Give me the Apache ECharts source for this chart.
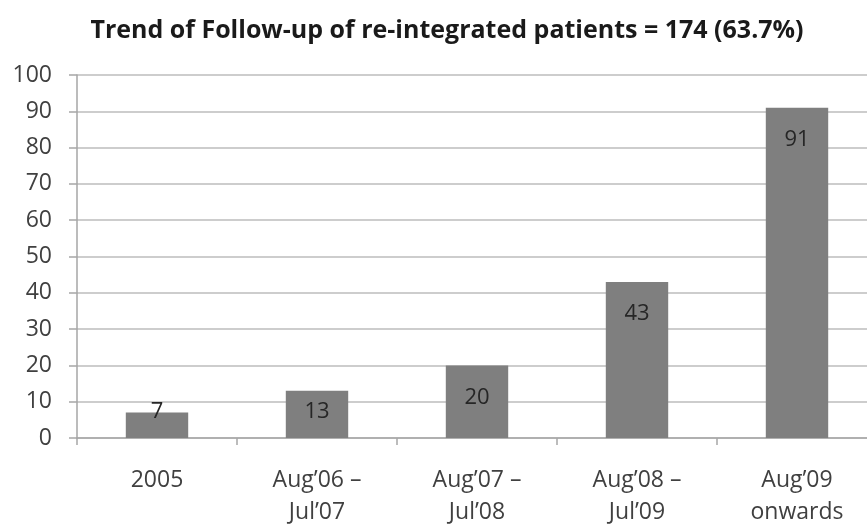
<!DOCTYPE html>
<html>
<head>
<meta charset="utf-8">
<script src="https://cdn.jsdelivr.net/npm/echarts@6/dist/echarts.min.js"></script>
<style>
  html, body { margin: 0; padding: 0; background: #fff; }
  #main { width: 867px; height: 524px; }
</style>
</head>
<body>
<div id="main"></div>
<script>
// periods on the x axis
var periods = ['2005', 'Aug’06 –\nJul’07', 'Aug’07 –\nJul’08', 'Aug’08 –\nJul’09', 'Aug’09\nonwards'];
// number of followed-up patients per period
var patients = [7, 13, 20, 43, 91];
var yTicks = [0, 10, 20, 30, 40, 50, 60, 70, 80, 90, 100];

var chart = echarts.init(document.getElementById('main'));
var font = '"Open Sans", sans-serif';

function buildData(offsets) {
  return patients.map(function (v, i) {
    return { value: v, label: { distance: offsets ? offsets[i] : 21 } };
  });
}

var option = {
  animation: false,
  title: {
    text: 'Trend of Follow-up of re-integrated patients = 174 (63.7%)',
    left: 442, top: 13, textAlign: 'center',
    textStyle: { fontFamily: font, fontSize: 25, fontWeight: 'bold', color: '#1a1a1a' }
  },
  grid: { left: 77, top: 75, width: 800, height: 363, outerBoundsMode: 'none' },
  xAxis: {
    type: 'category',
    data: periods,
    axisLine: { lineStyle: { color: '#a6a6a6', width: 1.5 } },
    axisTick: { show: true, length: 7, lineStyle: { color: '#a6a6a6', width: 1.5 } },
    axisLabel: { fontFamily: font, fontSize: 23, color: '#404040', margin: 26, lineHeight: 32 }
  },
  yAxis: {
    type: 'value',
    min: yTicks[0], max: yTicks[yTicks.length - 1], interval: 10,
    axisLine: { show: true, lineStyle: { color: '#a6a6a6', width: 1.5 } },
    axisTick: { show: true, length: 8, lineStyle: { color: '#a6a6a6', width: 1.5 } },
    axisLabel: { fontFamily: font, fontSize: 23, color: '#404040', margin: 25 },
    splitLine: { lineStyle: { color: '#bdbdbd', width: 1.5 } }
  },
  series: [{
    type: 'bar',
    data: buildData(),
    barWidth: '39%',
    itemStyle: { color: '#7f7f7f' },
    label: {
      show: true, position: 'insideTop', distance: 21,
      fontFamily: font, fontSize: 22, color: '#262626'
    }
  }]
};
chart.setOption(option);

// keep labels of short bars from dropping below the axis
var zeroY = chart.convertToPixel({ yAxisIndex: 0 }, 0);
var offsets = patients.map(function (v) {
  var h = zeroY - chart.convertToPixel({ yAxisIndex: 0 }, v);
  return Math.min(21, h - 37);
});
chart.setOption({ series: [{ data: buildData(offsets) }] });
</script>
</body>
</html>
